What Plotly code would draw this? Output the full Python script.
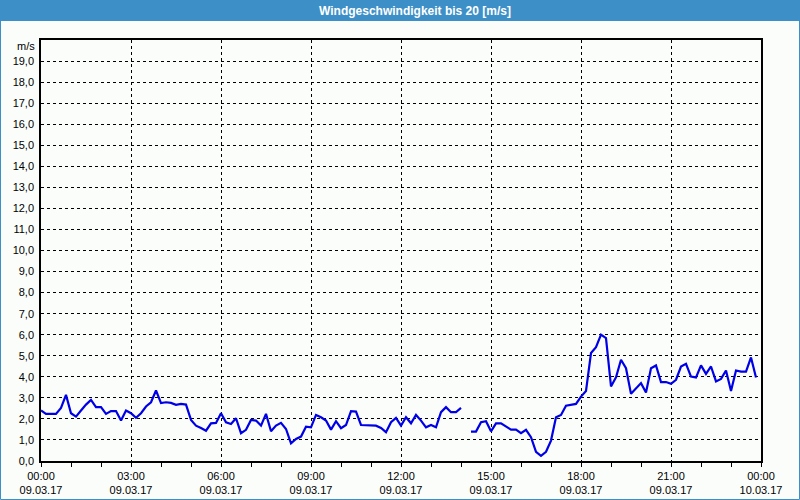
import plotly.graph_objects as go
import pandas as pd

# ---- data ----
start_time = "2017-03-09 00:00"
interval = "10min"
speed = [
    # 00:00 - 06:00
    2.40, 2.24, 2.24, 2.24, 2.52, 3.14, 2.27, 2.11, 2.40, 2.68, 2.90, 2.56, 2.56,
    2.24, 2.37, 2.37, 1.92, 2.40, 2.27, 2.05, 2.27, 2.59, 2.79, 3.35, 2.75, 2.79,
    2.76, 2.67, 2.71, 2.68, 1.95, 1.68, 1.57, 1.44, 1.79, 1.81, 2.27,
    # 06:10 - 12:00
    1.84, 1.76, 2.03, 1.32, 1.48, 1.95, 1.92, 1.68, 2.24, 1.41, 1.68, 1.81,
    1.52, 0.84, 1.05, 1.16, 1.63, 1.60, 2.19, 2.08, 1.92, 1.49, 1.89, 1.56,
    1.71, 2.37, 2.35, 1.71, 1.71, 1.71, 1.68, 1.57, 1.37, 1.84, 2.05, 1.68,
    # 12:10 - 14:00
    2.08, 1.79, 2.19, 1.92, 1.60, 1.71, 1.60, 2.32, 2.56, 2.32, 2.32, 2.52,
    # 14:10 (missing)
    None,
    # 14:20 - 18:00
    1.40, 1.40, 1.84, 1.89, 1.41, 1.79, 1.79, 1.63, 1.49, 1.49, 1.32, 1.48,
    1.13, 0.44, 0.25, 0.44, 0.97, 2.08, 2.19, 2.63, 2.68, 2.71, 3.06,
    # 18:10 - 23:50
    3.33, 5.13, 5.41, 6.00, 5.84, 3.54, 3.98, 4.81, 4.41, 3.19, 3.46, 3.70,
    3.25, 4.41, 4.54, 3.75, 3.75, 3.67, 3.86, 4.49, 4.62, 4.01, 3.97, 4.54,
    4.14, 4.49, 3.78, 3.90, 4.30, 3.33, 4.30, 4.25, 4.25, 4.92, 3.97,
]
x_ticks = ["2017-03-09 00:00", "2017-03-09 03:00", "2017-03-09 06:00",
           "2017-03-09 09:00", "2017-03-09 12:00", "2017-03-09 15:00",
           "2017-03-09 18:00", "2017-03-09 21:00", "2017-03-10 00:00"]
x_ticktext = ["00:00<br>09.03.17", "03:00<br>09.03.17", "06:00<br>09.03.17",
              "09:00<br>09.03.17", "12:00<br>09.03.17", "15:00<br>09.03.17",
              "18:00<br>09.03.17", "21:00<br>09.03.17", "00:00<br>10.03.17"]
y_ticks = list(range(0, 20))
y_ticktext = [f"{v},0" for v in y_ticks]
title_text = "Windgeschwindigkeit bis 20 [m/s]"
unit_text = "m/s"

times = pd.date_range(start_time, periods=len(speed), freq=interval)

# ---- layout geometry (pixels) ----
W, H = 800, 500
L, R, T, B = 41, 39, 40, 39
PW, PH = W - L - R, H - T - B

def px_x(p):
    return (p - L) / PW

def px_y(p):
    return (H - B - p) / PH

BG = "#FBFDFB"
BLUE_BAR = "#3D8FC7"
FONT = "Liberation Sans, Arial, sans-serif"

fig = go.Figure()
fig.add_trace(go.Scatter(
    x=times, y=speed, mode="lines",
    line=dict(color="#0000E6", width=2.2),
    connectgaps=False, hoverinfo="x+y",
))

fig.update_layout(
    width=W, height=H,
    margin=dict(l=L, r=R, t=T, b=B, autoexpand=False),
    paper_bgcolor=BG, plot_bgcolor=BG,
    showlegend=False,
    font=dict(family=FONT, size=11, color="#000000"),
    xaxis=dict(
        type="date", automargin=False,
        range=["2017-03-09 00:00", "2017-03-10 00:00"],
        tickvals=x_ticks, ticktext=x_ticktext,
        showgrid=True, gridcolor="#000000", gridwidth=1, griddash="3px,3px",
        showline=True, linecolor="#000000", linewidth=1.5, mirror=True,
        ticks="outside", ticklen=4, tickcolor="#000000",
        minor=dict(dtick=3600000, ticks="outside", ticklen=4,
                   tickcolor="#000000", showgrid=False),
        zeroline=False, fixedrange=True,
    ),
    yaxis=dict(
        range=[0, 20], automargin=False,
        tickvals=y_ticks, ticktext=y_ticktext,
        showgrid=True, gridcolor="#000000", gridwidth=1, griddash="3px,3px",
        showline=True, linecolor="#000000", linewidth=1.5, mirror=True,
        ticks="", ticklabelstandoff=3,
        zeroline=False, fixedrange=True,
    ),
    shapes=[
        # title bar
        dict(type="rect", xref="paper", yref="paper",
             x0=px_x(0), x1=px_x(W), y0=px_y(21), y1=px_y(0),
             fillcolor=BLUE_BAR, line=dict(width=0), layer="above"),
        # outer border
        dict(type="rect", xref="paper", yref="paper",
             x0=px_x(0.5), x1=px_x(W - 0.5), y0=px_y(H - 0.5), y1=px_y(0.5),
             fillcolor="rgba(0,0,0,0)", line=dict(color=BLUE_BAR, width=1),
             layer="above"),
    ],
    annotations=[
        dict(text=f"<b>{title_text}</b>", xref="paper", yref="paper",
             x=px_x(415), y=px_y(10.5), xanchor="center", yanchor="middle",
             showarrow=False, font=dict(family=FONT, size=12, color="#FFFFFF")),
        dict(text=unit_text, xref="paper", yref="paper",
             x=px_x(37), y=px_y(46), xanchor="right", yanchor="middle",
             showarrow=False, font=dict(family=FONT, size=11, color="#000000")),
    ],
)

fig.write_html("out.html")
